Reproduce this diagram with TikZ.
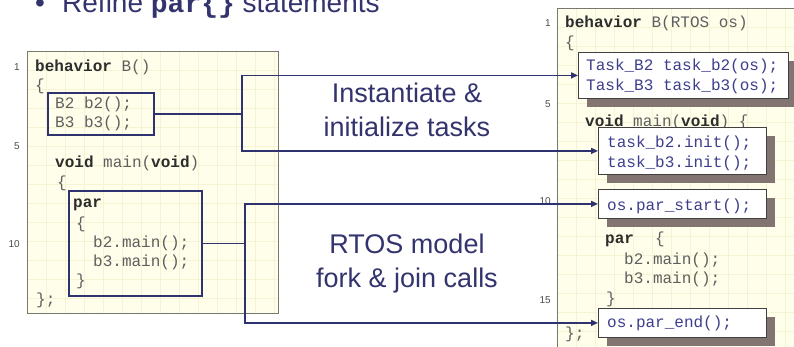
\documentclass[tikz,border=0pt]{standalone}
\usepackage{fontspec}
\setmainfont{Liberation Sans}
\setmonofont{Liberation Mono}
\usetikzlibrary{arrows.meta}
\definecolor{navy}{RGB}{46,50,110}
\definecolor{titlec}{RGB}{51,51,110}
\definecolor{panelfill}{RGB}{255,254,234}
\definecolor{gridc}{RGB}{245,243,212}
\definecolor{panelborder}{RGB}{120,120,110}
\definecolor{codegray}{RGB}{95,95,95}
\definecolor{kwc}{RGB}{45,45,45}
\definecolor{bluecode}{RGB}{62,62,140}
\definecolor{brownshade}{RGB}{130,116,112}
\begin{document}
\begin{tikzpicture}[x=1pt,y=-1pt,
  code/.style={anchor=base west,inner sep=0pt,font=\ttfamily\fontsize{16}{19}\selectfont,text=codegray},
  bcode/.style={code,text=bluecode},
  lnum/.style={anchor=base east,inner sep=0pt,font=\fontsize{10}{12}\selectfont,text=codegray!80!black},
  lbox/.style={draw=navy,line width=2pt,rectangle,inner sep=0pt,anchor=north west},
  rbox/.style={draw=black!75,line width=0.8pt,fill=white,rectangle,inner sep=0pt,anchor=north west},
  sbox/.style={fill=brownshade,draw=none,rectangle,inner sep=0pt,anchor=north west},
  conn/.style={draw=navy,line width=1.5pt},
  tipped/.style={conn,{Triangle[length=7pt,width=6pt]}-{Triangle[length=7pt,width=6pt]}},
  bigtext/.style={align=center,text=titlec,font=\fontsize{27}{34}\selectfont,inner sep=0pt}
]
\useasboundingbox (0,0) rectangle (794,346);
\clip (0,0) rectangle (794,346);
\fill[white] (0,0) rectangle (794,346);

% title
\node[anchor=base west,inner sep=0pt,text=titlec,font=\fontsize{28}{30}\selectfont] (bullet) at (35,12) {•};
\node[anchor=base west,inner sep=0pt,text=titlec,font=\fontsize{28}{30}\selectfont] (title) at (62,12)
  {Refine \texttt{\textbf{par\{\}}} statements};

% left panel
\fill[panelfill] (27,51) rectangle (278,313);
\begin{scope}
  \clip (27,51) rectangle (278,313);
  \draw[gridc,line width=0.6pt,xshift=27pt,yshift=-51pt] (0,0) grid[step=19pt] (260,270);
\end{scope}
\draw[panelborder,line width=1pt] (27,51) rectangle (278,313);

% right panel
\fill[panelfill] (557,8) rectangle (800,360);
\begin{scope}
  \clip (557,8) rectangle (800,360);
  \draw[gridc,line width=0.6pt,xshift=557pt,yshift=-8pt] (0,0) grid[step=19pt] (260,360);
\end{scope}
\draw[panelborder,line width=1pt] (800,8) -- (557,8) -- (557,360);

% left line numbers
\node[lnum] (ln1) at (20,70) {1};
\node[lnum] (ln5) at (20,149) {5};
\node[lnum] (ln10) at (20,247) {10};

% left code
\node[code] (lc1) at (35,71) {\textbf{\textcolor{kwc}{behavior}} B()};
\node[code] (lc2) at (35,90) {\{};
\node[code] (lc3) at (55,108) {B2 b2();};
\node[code] (lc4) at (55,127) {B3 b3();};
\node[code] (lc6) at (55,167) {\textbf{\textcolor{kwc}{void}} main(\textbf{\textcolor{kwc}{void}})};
\node[code] (lc7) at (57,187) {\{};
\node[code] (lc8) at (73,207) {\textbf{\textcolor{kwc}{par}}};
\node[code] (lc9) at (76,228) {\{};
\node[code] (lc10) at (93,247) {b2.main();};
\node[code] (lc11) at (93,266) {b3.main();};
\node[code] (lc12) at (76,285) {\}};
\node[code] (lc13) at (36,304) {\};};

% left boxes
\node[lbox,minimum width=106pt,minimum height=42pt] (bx1) at (47,92) {};
\node[lbox,minimum width=133pt,minimum height=105pt] (bx2) at (68,190) {};

% right line numbers
\node[lnum] (rn1) at (551,26) {1};
\node[lnum] (rn5) at (551,107) {5};
\node[lnum] (rn10) at (551,204) {10};
\node[lnum] (rn15) at (551,303) {15};

% right code
\node[code] (rc1) at (565,27) {\textbf{\textcolor{kwc}{behavior}} B(RTOS os)};
\node[code] (rc2) at (565,47) {\{};
\node[code] (rc6) at (585,126) {\textbf{\textcolor{kwc}{void}} main(\textbf{\textcolor{kwc}{void}}) \{};
\node[code] (rc11) at (605,243) {\textbf{\textcolor{kwc}{par}}};
\node[code] (rc11b) at (655,243) {\{};
\node[code] (rc12) at (624,264) {b2.main();};
\node[code] (rc13) at (624,283) {b3.main();};
\node[code] (rc14) at (606,303) {\}};
\node[code] (rc16) at (565,338) {\};};

% shadows of right boxes
\node[sbox,minimum width=210pt,minimum height=46pt] (tbs) at (587,61) {};
\node[sbox,minimum width=168pt,minimum height=47pt] (ibs) at (607,136) {};
\node[sbox,minimum width=168pt,minimum height=29pt] (sbs) at (607,198) {};
\node[sbox,minimum width=168pt,minimum height=29pt] (ebs) at (607,317) {};

% right boxes
\node[rbox,minimum width=210pt,minimum height=46pt] (tb) at (578,52) {};
\node[rbox,minimum width=168pt,minimum height=47pt] (ib) at (598,127) {};
\node[rbox,minimum width=168pt,minimum height=29pt] (sb) at (598,189) {};
\node[rbox,minimum width=168pt,minimum height=29pt] (eb) at (598,308) {};

\node[bcode] (tc1) at (586,70) {Task\_B2 task\_b2(os);};
\node[bcode] (tc2) at (586,90) {Task\_B3 task\_b3(os);};
\node[bcode] (ic1) at (607,147) {task\_b2.init();};
\node[bcode] (ic2) at (607,167) {task\_b3.init();};
\node[bcode] (sc1) at (607,210) {os.par\_start();};
\node[bcode] (ec1) at (607,327) {os.par\_end();};

% connectors
\coordinate (j1) at (242,0);
\coordinate (j2) at (245,0);
\draw[conn] (bx1.east) -- (bx1.east -| j1);
\draw[tipped] (tb.west) -- (tb.west -| j1) -- (ib.west -| j1) -- (ib.west);
\draw[conn] (bx2.east) -- (bx2.east -| j2);
\draw[tipped] (sb.west) -- (sb.west -| j2) -- (eb.west -| j2) -- (eb.west);

% middle labels
\node[bigtext] (inst) at (407,110) {Instantiate \&\\initialize tasks};
\node[bigtext] (rtos) at (407,264) {RTOS model\\fork \& join calls};
\end{tikzpicture}
\end{document}
